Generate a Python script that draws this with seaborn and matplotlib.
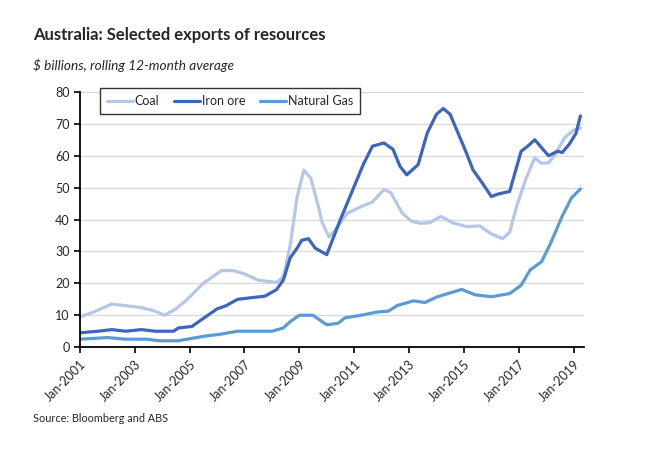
import pandas as pd
import matplotlib
matplotlib.use("Agg")
import matplotlib.pyplot as plt
import matplotlib.dates as mdates
import seaborn as sns

coal_dates = ["2001-01", "2001-07", "2002-03", "2002-09", "2003-03", "2003-09", "2004-02", "2004-07",
              "2004-12", "2005-07", "2006-03", "2006-08", "2007-01", "2007-07", "2008-03", "2008-06",
              "2008-09", "2008-12", "2009-03", "2009-06", "2009-09", "2009-11", "2010-02", "2010-05",
              "2010-10", "2011-04", "2011-09", "2012-02", "2012-05", "2012-10", "2013-02", "2013-06",
              "2013-10", "2014-03", "2014-08", "2015-02", "2015-08", "2016-01", "2016-06", "2016-09",
              "2016-12", "2017-04", "2017-08", "2017-11", "2018-02", "2018-05", "2018-09", "2019-01",
              "2019-04"]
coal = [9.5, 11, 13.5, 13, 12.5, 11.5, 10, 12, 15, 20, 24, 24, 23, 21, 20.3, 22, 32, 47, 55.5, 53,
        45, 39, 34.5, 37, 42, 44, 45.5, 49.4, 48.5, 42, 39.5, 38.8, 39, 41, 39, 37.8, 38, 35.5, 34,
        36, 44, 52.5, 59.3, 57.6, 57.8, 60.4, 65.6, 68, 68.7]

iron_dates = ["2001-01", "2001-09", "2002-03", "2002-09", "2003-04", "2003-10", "2004-06", "2004-08",
              "2005-02", "2005-07", "2006-01", "2006-05", "2006-10", "2007-04", "2007-10", "2008-03",
              "2008-06", "2008-09", "2008-12", "2009-02", "2009-05", "2009-08", "2010-01", "2010-07",
              "2011-01", "2011-05", "2011-09", "2012-02", "2012-06", "2012-09", "2012-12", "2013-05",
              "2013-09", "2014-01", "2014-04", "2014-07", "2015-02", "2015-05", "2015-09", "2016-01",
              "2016-04", "2016-09", "2017-02", "2017-05", "2017-08", "2018-02", "2018-06", "2018-08",
              "2018-11", "2019-02", "2019-04"]
iron_ore = [4.5, 5, 5.5, 5, 5.5, 5, 5, 6, 6.5, 9, 12, 13, 15, 15.5, 16, 18, 21, 28, 31, 33.5, 34,
            31, 29, 40, 50.4, 57.2, 63, 64, 62, 56.7, 54, 57.2, 67.2, 73, 74.8, 73, 61, 55.6, 51.5,
            47.2, 48, 48.8, 61.4, 63, 65, 60, 61.4, 61, 63.5, 67, 72.5]

gas_dates = ["2001-01", "2002-01", "2002-09", "2003-06", "2003-12", "2004-08", "2004-12", "2005-08",
             "2006-02", "2006-10", "2007-08", "2008-01", "2008-06", "2008-09", "2009-01", "2009-07",
             "2010-01", "2010-06", "2010-09", "2011-04", "2011-11", "2012-04", "2012-08", "2013-03",
             "2013-08", "2014-01", "2014-12", "2015-06", "2016-01", "2016-09", "2017-02", "2017-06",
             "2017-11", "2018-03", "2018-08", "2018-12", "2019-04"]
natural_gas = [2.5, 3, 2.5, 2.5, 2, 2, 2.5, 3.5, 4, 5, 5, 5, 6, 8, 10, 10, 7, 7.5, 9.2, 10, 11, 11.3,
               13.1, 14.5, 14, 15.7, 18.1, 16.4, 15.8, 16.8, 19.4, 24.2, 26.8, 32.6, 41, 46.7, 49.6]

tick_years = list(range(2001, 2020, 2))

colors = {"Coal": "#B4C7E7", "Iron ore": "#3C65BC", "Natural Gas": "#5B9BD5"}

sns.set_style("white")
plt.rcParams["font.family"] = ["Lato", "DejaVu Sans"]

fig = plt.figure(figsize=(6.5, 4.55), dpi=100)
ax = fig.add_axes([0.123, 0.237, 0.775, 0.561])

for name, d, v in [("Coal", coal_dates, coal), ("Iron ore", iron_dates, iron_ore),
                   ("Natural Gas", gas_dates, natural_gas)]:
    df = pd.DataFrame({"date": pd.to_datetime(d), "value": v})
    sns.lineplot(data=df, x="date", y="value", ax=ax, color=colors[name], linewidth=2.3, label=name)

ax.set_ylim(0, 80)
ax.set_yticks(range(0, 81, 10))
ax.set_xlim(pd.Timestamp("2001-01-01"), pd.Timestamp("2019-05-15"))
ax.set_xticks([pd.Timestamp(f"{y}-01-01") for y in tick_years])
ax.xaxis.set_major_formatter(mdates.DateFormatter("Jan-%Y"))
plt.setp(ax.get_xticklabels(), rotation=45, ha="right", rotation_mode="anchor")
ax.set_xlabel("")
ax.set_ylabel("")
ax.grid(axis="y", color="#D9D9D9", linewidth=0.9)
ax.set_axisbelow(True)
for s in ["top", "right"]:
    ax.spines[s].set_visible(False)
for s in ["left", "bottom"]:
    ax.spines[s].set_color("black")
    ax.spines[s].set_linewidth(1.3)
ax.tick_params(axis="both", labelsize=9, length=4, width=1.2, color="black", direction="out",
               bottom=True, left=True)

leg = ax.legend(loc="upper left", bbox_to_anchor=(0.04, 1.015), ncol=3, frameon=True, fancybox=False,
                fontsize=9, handlelength=2.1, handletextpad=0.1, columnspacing=1.2,
                borderpad=0.55, borderaxespad=0.0, edgecolor="black")
leg.get_frame().set_linewidth(1.0)

fig.text(0.051, 1 - 35 / 455, "Australia: Selected exports of resources", fontsize=12,
         fontweight="bold", va="center")
fig.text(0.051, 1 - 65 / 455, "$ billions, rolling 12-month average", fontsize=9.8,
         style="italic", va="center")
fig.text(0.051, 1 - 418 / 455, "Source: Bloomberg and ABS", fontsize=7.8, va="center")

fig.savefig("out.png", dpi=100)
